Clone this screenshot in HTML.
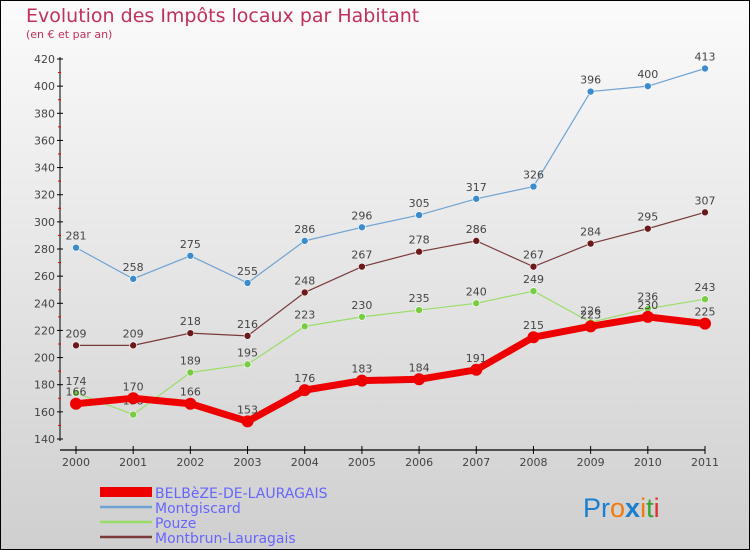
<!DOCTYPE html>
<html><head><meta charset="utf-8"><style>
body{margin:0;width:750px;height:550px;overflow:hidden}
svg{display:block;font-family:"DejaVu Sans","Liberation Sans",sans-serif}
</style></head><body>
<svg id="c" width="750" height="550">
<defs><linearGradient id="bg" x1="0" y1="0" x2="0" y2="1"><stop offset="0" stop-color="#fbfbfb"/><stop offset="1" stop-color="#cfcfcf"/></linearGradient></defs>
<rect x="0.5" y="0.5" width="749" height="549" fill="url(#bg)" stroke="#000"/>
<text x="26" y="22" font-size="19" fill="#c0305a">Evolution des Impôts locaux par Habitant</text>
<text x="26" y="38" font-size="11" fill="#c0305a">(en € et par an)</text>
<g id="axes"></g><g id="series"></g><g id="legend"></g>
<text x="583" y="517" font-size="27" font-family="Liberation Sans,sans-serif"><tspan fill="#1a7fd0">Pr</tspan><tspan fill="#f07a10">o</tspan><tspan fill="#1a7fd0" font-weight="bold">x</tspan><tspan fill="#f07a10">i</tspan><tspan fill="#3aa030">t</tspan><tspan fill="#e03030">i</tspan></text>
</svg>
<script>
const years=["2000","2001","2002","2003","2004","2005","2006","2007","2008","2009","2010","2011"];
const belbeze=[166,170,166,153,176,183,184,191,215,223,230,225];
const montgiscard=[281,258,275,255,286,296,305,317,326,396,400,413];
const pouze=[174,158,189,195,223,230,235,240,249,226,236,243];
const montbrun=[209,209,218,216,248,267,278,286,267,284,295,307];
const yTicks=[140,160,180,200,220,240,260,280,300,320,340,360,380,400,420];
const names=["BELBèZE-DE-LAURAGAIS","Montgiscard","Pouze","Montbrun-Lauragais"];
const NS="http://www.w3.org/2000/svg";
const X=i=>76+i*(705-76)/11;
const Y=v=>439-(v-140)*(380/280);
function mk(t,a,p){const e=document.createElementNS(NS,t);for(const k in a)e.setAttribute(k,a[k]);p.appendChild(e);return e;}
const ax=document.getElementById('axes');
const yl=mk('line',{x1:60,y1:Y(420)-2,x2:60,y2:Y(140)+2,stroke:'#000'},ax);


const xl=mk('line',{x1:60,y1:450,x2:X(11),y2:450,stroke:'#000','stroke-width':1.2},ax);


yTicks.forEach((v,i)=>{
 mk('line',{x1:57,y1:Y(v),x2:63,y2:Y(v),stroke:'#000'},ax);
 if(i<yTicks.length-1)mk('line',{x1:58,y1:Y(v+10),x2:61,y2:Y(v+10),stroke:'#e00'},ax);
 const t=mk('text',{x:55,y:Y(v)+4,'font-size':11,fill:'#444','text-anchor':'end'},ax);t.textContent=v;
 
 
});
years.forEach((y,i)=>{
 mk('line',{x1:X(i),y1:446,x2:X(i),y2:454,stroke:'#000'},ax);
 const t=mk('text',{x:X(i),y:466,'font-size':11,fill:'#444','text-anchor':'middle'},ax);t.textContent=y;
 
 
});
const sg=document.getElementById('series');
const defs=[
 {d:montgiscard,c:'#6fa3d3',f:'#3a8ccc',w:1.2,r:3.5,n:'montgiscard'},
 {d:montbrun,c:'#7a3a3a',f:'#6a1a1a',w:1.2,r:3.5,n:'montbrun'},
 {d:pouze,c:'#99dd66',f:'#77cc44',w:1.2,r:3.5,n:'pouze'},
 {d:belbeze,c:'#ee0000',f:'#ee0000',w:7,r:6,n:'belbeze'}];
defs.forEach(s=>{
 const p=mk('polyline',{points:s.d.map((v,i)=>X(i)+','+Y(v)).join(' '),fill:'none',stroke:s.c,'stroke-width':s.w},sg);
 
 
 s.d.forEach((v,i)=>{
  const c=mk('circle',{cx:X(i),cy:Y(v),r:s.r,fill:s.f,stroke:s.n=='belbeze'?'none':'#fff','stroke-width':0.6},sg);
  
  
  const below=(s.n=='pouze'&&i==1);
  const t=mk('text',{x:X(i),y:below?Y(v)-10:Y(v)-8,'font-size':11,fill:'#444','text-anchor':'middle'},sg);
  t.textContent=v;
  
  
 });
});
const lg=document.getElementById('legend');
const lc=['#ee0000','#6fa3d3','#99dd66','#7a3a3a'],lw=[10,2.5,2.5,2.5];
names.forEach((n,i)=>{
 const y=492+i*15;
 const l=mk('line',{x1:100,y1:y,x2:152,y2:y,stroke:lc[i],'stroke-width':lw[i]},lg);
 
 
 const t=mk('text',{x:155,y:y+6,'font-size':14,fill:'#6666ff'},lg);t.textContent=n;
 
 
});
</script>
</body></html>
